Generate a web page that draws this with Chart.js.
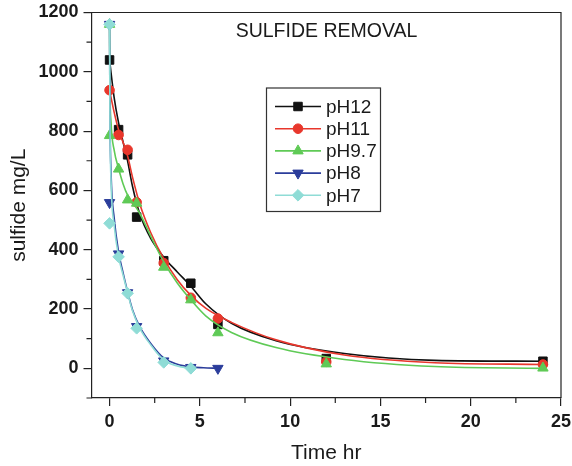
<!DOCTYPE html>
<html>
<head>
<meta charset="utf-8">
<script src="https://cdn.jsdelivr.net/npm/chart.js@4/dist/chart.umd.min.js"></script>
<style>
  html, body { margin: 0; padding: 0; background: #fff; }
  #wrap { width: 572px; height: 466px; }
</style>
</head>
<body>
<div id="wrap"><canvas id="sulfideChart" width="572" height="466"></canvas></div>
<script>
// axis ticks
const xTicks = [0, 5, 10, 15, 20, 25];
const xMinorTicks = [2.5, 7.5, 12.5, 17.5, 22.5];
const yTicks = [0, 200, 400, 600, 800, 1000, 1200];
const yMinorTicks = [-100, 100, 300, 500, 700, 900, 1100];

const chartTitle = "SULFIDE REMOVAL";
const seriesNames = ["pH12", "pH11", "pH9.7", "pH8", "pH7"];

// measured points (time hr, sulfide mg/L)
const timePH12 = [0, 0.5, 1, 1.5, 3, 4.5, 6, 12, 24];
const pH12 = [1040, 805, 720, 510, 363, 287, 148, 33, 24];
const timePH11 = [0, 0.5, 1, 1.5, 3, 4.5, 6, 12, 24];
const pH11 = [938, 787, 737, 560, 355, 238, 168, 22, 13];
const timePH97 = [0, 0, 0.5, 1, 1.5, 3, 4.5, 6, 12, 24];
const pH97 = [1160, 785, 672, 568, 557, 341, 231, 120, 15, 1];
const timePH8 = [0, 0, 0.5, 1, 1.5, 3, 4.5, 6];
const pH8 = [1160, 559, 386, 255, 141, 25, 3, 0];
const timePH7 = [0, 0, 0.5, 1, 1.5, 3, 4.5];
const pH7 = [1160, 489, 376, 253, 135, 20, 0];

// smoothed curves
const fitTime = [0, 0.25, 0.5, 0.75, 1, 1.27, 1.67, 2.27, 3, 3.75, 4.5, 5.34, 6.75, 9.22, 13, 18, 24];
const fitPH12 = [1040, 915, 828, 763, 699, 614, 521, 439, 375, 325, 277, 217, 152, 93, 50, 27, 24];
const fitPH11 = [938, 865, 804, 762, 716, 645, 555, 459, 370, 299, 246, 202, 155, 96, 45, 19, 13];
const fitTimePH97 = [0, 0.02, 0.083, 0.26, 0.5, 0.75, 1, 1.27, 1.67, 2.27, 3, 3.75, 4.5, 5.34, 6.75, 9.22, 13, 18, 24];
const fitPH97 = [1160, 960, 829, 734, 674, 622, 584, 560, 523, 447, 359, 288, 231, 176, 121, 70, 30, 6, 0];
const fitTimePH8 = [0, 0.02, 0.083, 0.26, 0.5, 0.75, 1, 1.27, 1.67, 2.27, 3, 3.75, 4.5, 5.2, 6];
const fitPH8 = [1160, 880, 660, 505, 392, 322, 258, 198, 141, 85, 35, 14, 5, 2, 0];
const fitTimePH7 = [0, 0.02, 0.083, 0.26, 0.5, 0.75, 1, 1.27, 1.67, 2.27, 3, 3.75, 4.5];
const fitPH7 = [1160, 860, 630, 480, 377, 314, 254, 194, 136, 80, 28, 8, 0];

const FONT = '"Liberation Sans", Arial, Helvetica, sans-serif';
const TEXT = '#1a1a1a';
const AXIS = '#222';

const toXY = (xs, ys) => xs.map((x, i) => ({ x: x, y: ys[i] }));

// [name, colour, pointStyle, radius, rotation, points, curve]
const series = [
  [seriesNames[0], '#111111', 'rect', 6, 0, toXY(timePH12, pH12), toXY(fitTime, fitPH12)],
  [seriesNames[1], '#e8372c', 'circle', 4.8, 0, toXY(timePH11, pH11), toXY(fitTime, fitPH11)],
  [seriesNames[2], '#5fca56', 'triangle', 6, 0, toXY(timePH97, pH97), toXY(fitTimePH97, fitPH97)],
  [seriesNames[3], '#2b3d9b', 'triangle', 6, 180, toXY(timePH8, pH8), toXY(fitTimePH8, fitPH8)],
  [seriesNames[4], '#8fdcd6', 'rectRot', 5.8, 0, toXY(timePH7, pH7), toXY(fitTimePH7, fitPH7)]
];

const datasets = [];
series.forEach((s, i) => {
  const layer = (series.length - 1 - i) * 2; // later series on top
  datasets.push({
    label: s[0] + ' fit',
    data: s[6],
    showLine: true,
    borderColor: s[1],
    borderWidth: 1.6,
    pointRadius: 0,
    cubicInterpolationMode: 'monotone',
    order: layer + 1
  });
  datasets.push({
    label: s[0],
    data: s[5],
    showLine: false,
    pointStyle: s[2],
    pointRadius: s[3],
    pointRotation: s[4],
    backgroundColor: s[1],
    borderColor: s[1],
    borderWidth: 1,
    order: layer
  });
});

const extras = {
  id: 'extras',
  afterDraw(chart) {
    const { ctx, chartArea: a, scales: { x, y } } = chart;
    ctx.save();
    // frame and minor ticks
    ctx.strokeStyle = AXIS;
    ctx.lineWidth = 1.2;
    ctx.beginPath();
    ctx.moveTo(a.left, a.top);
    ctx.lineTo(a.right, a.top);
    ctx.lineTo(a.right, a.bottom);
    yMinorTicks.forEach(v => {
      const p = y.getPixelForValue(v);
      ctx.moveTo(a.left - 5, p);
      ctx.lineTo(a.left, p);
    });
    xMinorTicks.forEach(v => {
      const p = x.getPixelForValue(v);
      ctx.moveTo(p, a.bottom);
      ctx.lineTo(p, a.bottom + 5);
    });
    ctx.stroke();

    // title inside the plot
    ctx.fillStyle = TEXT;
    ctx.font = '19.5px ' + FONT;
    ctx.textAlign = 'center';
    ctx.textBaseline = 'middle';
    ctx.fillText(chartTitle, 326.5, 32);

    // legend box
    const bx = 266.5, by = 88, bw = 114, bh = 123.5;
    ctx.strokeStyle = '#333';
    ctx.lineWidth = 1.2;
    ctx.strokeRect(bx, by, bw, bh);
    ctx.font = '19px ' + FONT;
    ctx.textAlign = 'left';
    series.forEach((s, i) => {
      const ly = 106.5 + i * 22.2;
      ctx.strokeStyle = s[1];
      ctx.lineWidth = 1.6;
      ctx.beginPath();
      ctx.moveTo(275, ly);
      ctx.lineTo(321, ly);
      ctx.stroke();
      ctx.fillStyle = s[1];
      ctx.strokeStyle = s[1];
      ctx.lineWidth = 1;
      if (Chart.helpers && Chart.helpers.drawPoint) {
        Chart.helpers.drawPoint(ctx, { pointStyle: s[2], radius: s[3], rotation: s[4], borderWidth: 1 }, 298, ly);
      } else {
        ctx.beginPath();
        ctx.arc(298, ly, 4.5, 0, Math.PI * 2);
        ctx.fill();
      }
      ctx.fillStyle = TEXT;
      ctx.fillText(s[0], 326, ly + 1);
    });
    ctx.restore();
  }
};

new Chart(document.getElementById('sulfideChart'), {
  type: 'scatter',
  data: { datasets: datasets },
  options: {
    responsive: false,
    animation: false,
    devicePixelRatio: 1,
    layout: { padding: { left: 0, top: 12.5, right: 11, bottom: 0 } },
    plugins: {
      legend: { display: false },
      tooltip: { enabled: false }
    },
    scales: {
      x: {
        type: 'linear',
        position: 'bottom',
        min: -1,
        max: 25,
        afterBuildTicks: scale => { scale.ticks = xTicks.map(v => ({ value: v })); },
        afterFit: scale => { scale.height = 68; scale.paddingLeft = 0; scale.paddingRight = 0; },
        grid: { drawOnChartArea: false, drawTicks: true, tickLength: 8, color: AXIS, lineWidth: 1.2 },
        border: { color: AXIS, width: 1.2 },
        ticks: { color: TEXT, font: { family: FONT, size: 18, weight: 'bold' }, padding: 5, maxRotation: 0, callback: v => String(v) },
        title: {
          display: true,
          text: 'Time hr',
          color: TEXT,
          font: { family: FONT, size: 21 },
          padding: { top: 0, bottom: 0 }
        }
      },
      y: {
        type: 'linear',
        min: -100,
        max: 1200,
        afterBuildTicks: scale => { scale.ticks = yTicks.map(v => ({ value: v })); },
        afterFit: scale => { scale.width = 91.5; scale.paddingTop = 0; scale.paddingBottom = 0; },
        grid: { drawOnChartArea: false, drawTicks: true, tickLength: 8, color: AXIS, lineWidth: 1.2 },
        border: { color: AXIS, width: 1.2 },
        ticks: { color: TEXT, font: { family: FONT, size: 18, weight: 'bold' }, padding: 5, callback: v => String(v) },
        title: {
          display: true,
          text: 'sulfide mg/L',
          color: TEXT,
          font: { family: FONT, size: 21 },
          padding: { top: 7, bottom: 0 }
        }
      }
    }
  },
  plugins: [extras]
});
</script>
</body>
</html>
